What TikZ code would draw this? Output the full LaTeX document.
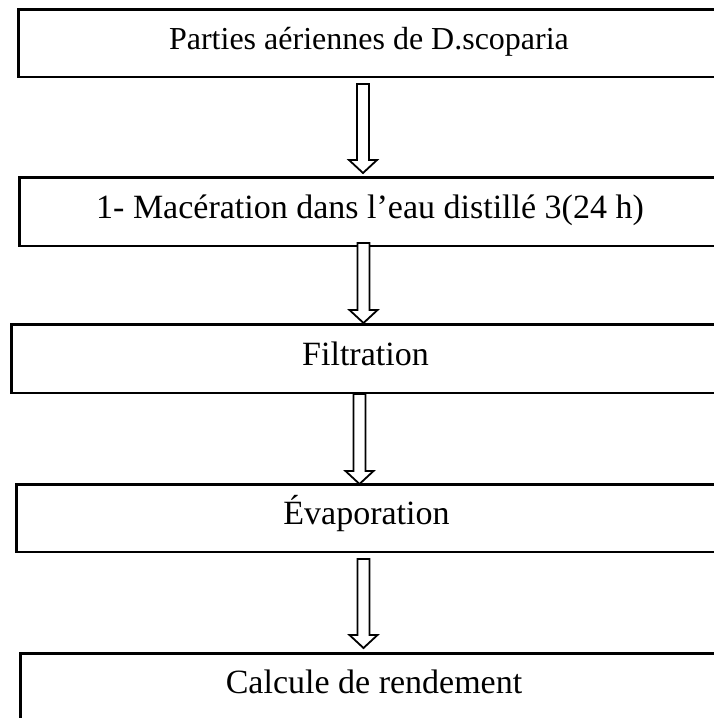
\documentclass[tikz,border=0pt]{standalone}
\usepackage{fontspec}
\setmainfont{Liberation Serif}
\usetikzlibrary{calc}
\tikzset{
	boite/.style={draw, line width=2.5pt, inner sep=0pt, text height=25pt, text depth=12pt, font=\fontsize{34pt}{40pt}\selectfont},
	fleche/.style={draw, fill=white, line width=1.8pt, line join=miter},
}
\newcommand{\flechecreuse}[2]{%
	\draw[fleche] let \p1=(#1), \p2=(#2) in (\x1-6pt,\y1) -- (\x1+6pt,\y1) -- (\x1+6pt,\y2+13pt) -- (\x1+14pt,\y2+13pt) -- (\x1,\y2) -- (\x1-14pt,\y2+13pt) -- (\x1-6pt,\y2+13pt) -- cycle;}
\begin{document}
\begin{tikzpicture}[x=1pt, y=-1pt]
			\useasboundingbox (0,0) rectangle (713,718);
			\node[boite, minimum width=701.5pt, minimum height=67.5pt, font=\fontsize{32pt}{38pt}\selectfont] (plante) at (369,43) {Parties aériennes de D.scoparia};
			\node[boite, minimum width=701.5pt, minimum height=68.5pt] (maceration) at (370,211.5) {1- Macération dans l’eau distillé 3(24 h)};
			\node[boite, minimum width=708.5pt, minimum height=68.5pt] (filtration) at (365.5,358.5) {Filtration};
			\node[boite, minimum width=700.5pt, minimum height=67.5pt] (evaporation) at (366.5,518) {Évaporation};
			\node[boite, minimum width=707.5pt, minimum height=67.5pt] (rendement) at (374,687) {Calcule de rendement};
			\coordinate (f1a) at (363,84);
			\coordinate (f1b) at (363,173);
			\coordinate (f2a) at (363.5,243);
			\coordinate (f2b) at (363.5,323);
			\coordinate (f3a) at (359.5,394);
			\coordinate (f3b) at (359.5,484);
			\coordinate (f4a) at (363.5,559);
			\coordinate (f4b) at (363.5,648);
			\flechecreuse{f1a}{f1b}
			\flechecreuse{f2a}{f2b}
			\flechecreuse{f3a}{f3b}
			\flechecreuse{f4a}{f4b}
		\end{tikzpicture}
\end{document}
